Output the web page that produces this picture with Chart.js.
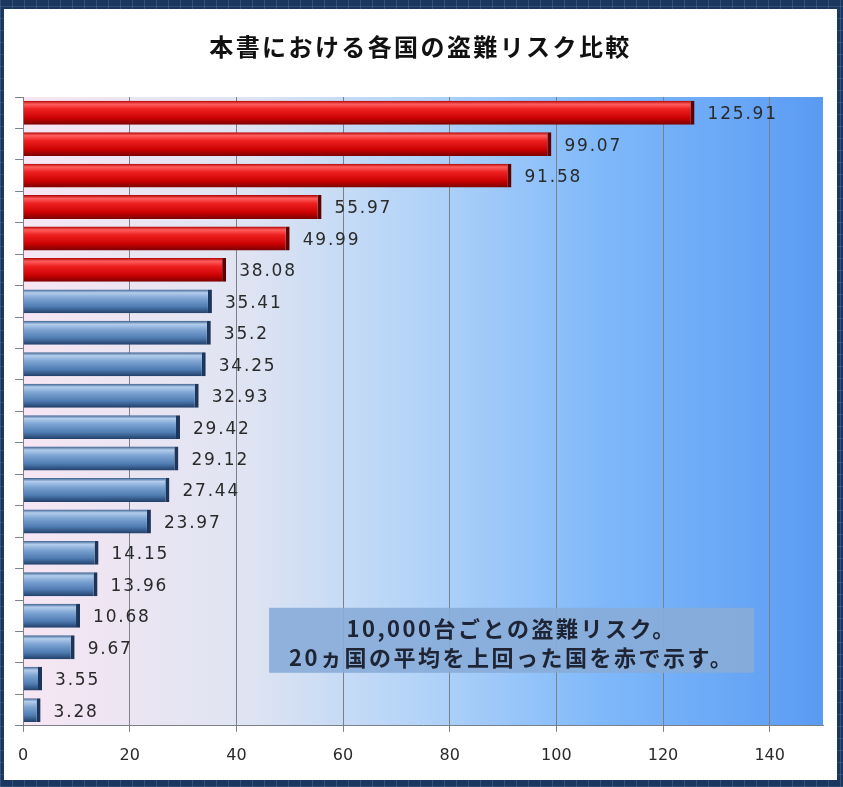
<!DOCTYPE html>
<html lang="ja">
<head>
<meta charset="UTF-8">
<title>各国の盗難リスク比較</title>
<script src="https://cdn.jsdelivr.net/npm/chart.js"></script>
<style>
  html, body { margin: 0; padding: 0; }
  body {
    width: 843px;
    height: 787px;
    overflow: hidden;
    background-color: #1b3760;
    background-image:
      repeating-linear-gradient(90deg, rgba(110,150,200,0.28) 0 1px, transparent 1px 12px),
      repeating-linear-gradient(0deg, rgba(110,150,200,0.22) 0 1px, transparent 1px 12px);
  }
  #panel {
    position: absolute;
    left: 4px;
    top: 9px;
    width: 833px;
    height: 771px;
    background: #fff;
  }
  #chart { display: block; }
</style>
</head>
<body>
<div id="panel">
  <canvas id="chart" width="833" height="771"></canvas>
</div>

<script>
  // ranking order, top bar first (country names are not shown in the original)
  const ranks = ['1', '2', '3', '4', '5', '6', '7', '8', '9', '10',
                 '11', '12', '13', '14', '15', '16', '17', '18', '19', '20'];
  const riskValues = [125.91, 99.07, 91.58, 55.97, 49.99, 38.08, 35.41, 35.2, 34.25, 32.93,
                      29.42, 29.12, 27.44, 23.97, 14.15, 13.96, 10.68, 9.67, 3.55, 3.28];
  // red = above the 20-country average
  const aboveAverage = [true, true, true, true, true, true, false, false, false, false,
                        false, false, false, false, false, false, false, false, false, false];
  const xTicks = [0, 20, 40, 60, 80, 100, 120, 140];
  const chartTitle = '本書における各国の盗難リスク比較';
  const noteLines = ['10,000台ごとの盗難リスク。', '20ヵ国の平均を上回った国を赤で示す。'];

  const BAR_PCT = 0.76;
  const AXIS_GREY = '#7b8089';

  // vertical "bevel" gradient for each bar, computed from the y scale
  function barGradient(context) {
    const chart = context.chart;
    const red = aboveAverage[context.dataIndex];
    if (!chart.chartArea || !chart.scales.y) return red ? '#d40000' : '#5b86bd';
    const yScale = chart.scales.y;
    const yc = yScale.getPixelForValue(context.dataIndex);
    const slot = chart.chartArea.height / ranks.length;
    const half = slot * BAR_PCT / 2;
    const g = chart.ctx.createLinearGradient(0, yc - half, 0, yc + half);
    if (red) {
      g.addColorStop(0, '#b00000');
      g.addColorStop(0.14, '#ff5e5e');
      g.addColorStop(0.35, '#ee2020');
      g.addColorStop(0.72, '#cc0202');
      g.addColorStop(1, '#7a0000');
    } else {
      g.addColorStop(0, '#3a5f8e');
      g.addColorStop(0.14, '#b3cdec');
      g.addColorStop(0.38, '#7ca3d2');
      g.addColorStop(0.72, '#4f7cb2');
      g.addColorStop(1, '#213f69');
    }
    return g;
  }

  const plotBackground = {
    id: 'plotBackground',
    beforeDraw(chart) {
      const { ctx, chartArea: a } = chart;
      const g = ctx.createLinearGradient(a.left, 0, a.right, 0);
      g.addColorStop(0, '#f7e6f3');
      g.addColorStop(0.28, '#dfe4f2');
      g.addColorStop(0.5, '#b2d3f8');
      g.addColorStop(0.72, '#80b9fa');
      g.addColorStop(1, '#5a9bf3');
      ctx.save();
      ctx.fillStyle = g;
      ctx.fillRect(a.left, a.top, a.right - a.left, a.bottom - a.top);
      ctx.restore();
    }
  };

  const valueLabels = {
    id: 'valueLabels',
    afterDatasetsDraw(chart) {
      const ctx = chart.ctx;
      const meta = chart.getDatasetMeta(0);
      ctx.save();
      ctx.font = '17px "DejaVu Sans", sans-serif';
      ctx.letterSpacing = '1.8px';
      ctx.fillStyle = '#2a2a2a';
      ctx.textBaseline = 'middle';
      ctx.textAlign = 'left';
      meta.data.forEach((bar, i) => {
        ctx.fillText(String(riskValues[i]), bar.x + 13, bar.y + 2);
      });
      ctx.restore();
    }
  };

  const titleAndNote = {
    id: 'titleAndNote',
    afterDraw(chart) {
      const { ctx, chartArea: a, width } = chart;
      ctx.save();
      ctx.textAlign = 'center';
      ctx.textBaseline = 'middle';

      ctx.font = 'bold 24px "Noto Sans CJK JP", sans-serif';
      ctx.letterSpacing = '2.4px';
      ctx.fillStyle = '#111';
      ctx.fillText(chartTitle, width / 2, 38);

      const bx = a.left + 246, by = a.bottom - 118, bw = 485, bh = 65;
      ctx.fillStyle = 'rgba(136,172,216,0.9)';
      ctx.fillRect(bx, by, bw, bh);
      ctx.font = 'bold 22px "Noto Sans CJK JP", sans-serif';
      ctx.letterSpacing = '2.5px';
      ctx.fillStyle = '#1e2433';
      ctx.fillText(noteLines[0], bx + bw / 2, by + 21);
      ctx.fillText(noteLines[1], bx + bw / 2, by + 50);
      ctx.restore();
    }
  };

  new Chart(document.getElementById('chart'), {
    type: 'bar',
    data: {
      labels: ranks,
      datasets: [{
        data: riskValues,
        backgroundColor: barGradient,
        borderColor: (c) => aboveAverage[c.dataIndex] ? '#5c0000' : '#1c355a',
        borderWidth: { top: 0, bottom: 0, left: 0, right: 4 },
        borderSkipped: false,
        barPercentage: BAR_PCT,
        categoryPercentage: 1
      }]
    },
    options: {
      indexAxis: 'y',
      responsive: false,
      animation: false,
      layout: { padding: { top: 88, left: 10, right: 14, bottom: 1 } },
      plugins: {
        legend: { display: false },
        title: { display: false },
        tooltip: { enabled: false }
      },
      scales: {
        x: {
          type: 'linear',
          min: 0,
          max: 150,
          afterBuildTicks: (scale) => { scale.ticks = xTicks.map(v => ({ value: v })); },
          grid: { color: AXIS_GREY, lineWidth: 1, tickLength: 6, drawTicks: true },
          border: { display: true, color: AXIS_GREY },
          ticks: {
            padding: 14,
            color: '#2a2a2a',
            font: { family: '"DejaVu Sans", sans-serif', size: 16 }
          }
        },
        y: {
          grid: { drawOnChartArea: false, drawTicks: true, tickLength: 8, offset: true, color: AXIS_GREY },
          border: { display: true, color: AXIS_GREY },
          ticks: { display: false }
        }
      }
    },
    plugins: [plotBackground, valueLabels, titleAndNote]
  });
</script>
</body>
</html>
